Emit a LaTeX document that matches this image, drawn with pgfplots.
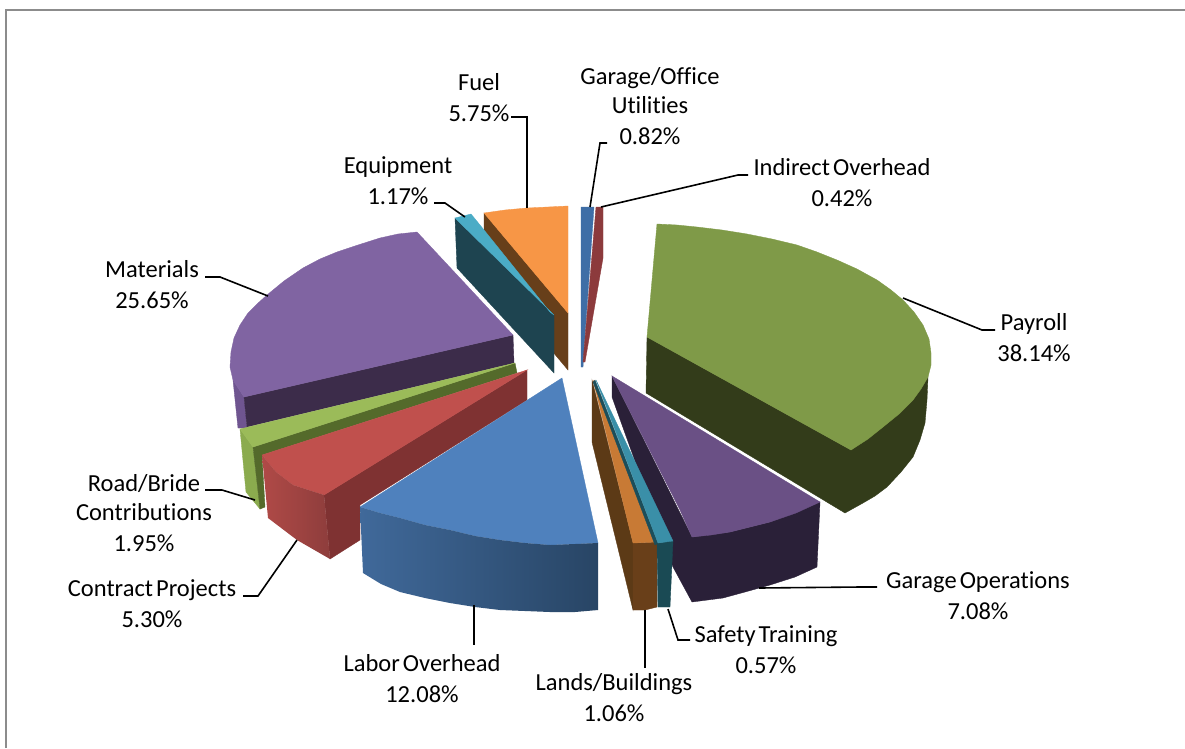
\documentclass[border=0pt]{standalone}
\usepackage{fontspec}
\setmainfont[WordSpace=0.55,Ligatures={NoCommon}]{Carlito}
\usepackage{pgfplots}
\pgfplotsset{compat=1.18}
\newcommand\poly[2]{\addplot[fill=#1,draw=#1,line width=0.35pt,forget plot] coordinates {#2} -- cycle;}
\newcommand\grad[3]{\addplot[draw=none,left color=#1,right color=#2,forget plot] coordinates {#3} -- cycle;}
\newcommand\lead[1]{\addplot[black,line width=1.6pt,forget plot] coordinates {#1};}
\newcommand\lab[3]{\node[align=center,inner sep=0pt,font=\fontsize{24.5}{29}\selectfont] at (axis cs:#1,#2) {#3};}
\definecolor{gTop}{HTML}{7F9A48}\definecolor{gDark}{HTML}{333C1A}
\definecolor{pTop}{HTML}{6A5085}\definecolor{pDark}{HTML}{2A2038}
\definecolor{mTop}{HTML}{8064A2}\definecolor{mDark}{HTML}{3C2C4A}\definecolor{mFront}{HTML}{6F5590}
\definecolor{oTop}{HTML}{F79646}\definecolor{oDark}{HTML}{673F1A}
\definecolor{lTop}{HTML}{C87A35}\definecolor{lDark}{HTML}{5C3A16}\definecolor{lFront}{HTML}{693F19}
\definecolor{tTop}{HTML}{3A8FA8}\definecolor{tFront}{HTML}{1A4A54}\definecolor{tMid}{HTML}{1C4E5A}
\definecolor{eTop}{HTML}{4BACC6}\definecolor{eDark}{HTML}{1E4450}
\definecolor{bTop}{HTML}{4F81BD}\definecolor{bL}{HTML}{40699A}\definecolor{bR}{HTML}{284565}
\definecolor{rTop}{HTML}{C0504D}\definecolor{rDark}{HTML}{7F3232}\definecolor{rF}{HTML}{B04A47}\definecolor{rG}{HTML}{8E3D3C}
\definecolor{vTop}{HTML}{9BBB59}\definecolor{vDark}{HTML}{546A2B}\definecolor{vFront}{HTML}{8BAB4E}
\definecolor{uBlue}{HTML}{3F6EA6}\definecolor{uRed}{HTML}{8C3A3C}
\definecolor{frameC}{HTML}{8C8C8C}
\begin{document}
\begin{tikzpicture}
\begin{axis}[scale only axis,width=1185pt,height=748pt,xmin=0,xmax=1185,ymin=0,ymax=748,y dir=reverse,axis lines=none,clip=true]
% page background, which also fixes the bounding box
\addplot[fill=white,draw=none,forget plot] coordinates {(0,0)(1185,0)(1185,748)(0,748)} -- cycle;
% frame
\addplot[frameC,line width=1.4pt,forget plot] coordinates {(6,748)(6,10)(1185,10)};
% fuel
\poly{oDark}{(484,213)(568,313)(568,370)(484,270)}
\poly{oTop}{(484,213)(505,210)(527,208)(548,207)(568,206)(568,313)}
% equipment
\poly{eDark}{(455,218)(554,315)(554,373)(457,268)}
\poly{eTop}{(455,218)(471,214)(480,225)(550,312)(554,315)}
% utilities
\poly{uBlue}{(581,207)(594,207)(585,335)(583,367)(581,367)}
\poly{uRed}{(596,207)(603,207)(603,258)(585,362)(583,362)}
% payroll
\poly{gDark}{(647,337)(851,450)(883,427)(913,400)(928,377)(927,400)(925,423)(920,440)(913,457)(901,472)(887,487)(875,496)(863,503)(845,513)(646,393)}
\poly{gTop}{(657,224)(677,225)(697,227)(722,230)(747,234)(772,239)(797,245)(817,252)(837,260)(857,269)(877,280)(891,290)(903,300)(914,312)(923,325)(929,339)(931,353)(931,365)(928,377)(921,389)(913,400)(899,414)(883,427)(868,439)(851,450)(647,337)}
% garage operations
\poly{pDark}{(612,376)(692,537)(730,532)(770,522)(820,502)(817,567)(795,577)(770,585)(745,592)(723,598)(692,602)(673,567)(612,397)}
\poly{pTop}{(612,376)(820,502)(796,513)(770,522)(750,527)(730,532)(711,535)(692,537)(680,510)}
% lands
\poly{lDark}{(592,380)(633,543)(633,610)(592,442)}
\poly{lFront}{(633,543)(657,542)(657,607)(645,610)(633,610)}
\poly{lTop}{(593,380)(657,542)(633,543)}
% safety
\poly{tMid}{(595,380)(658,543)(655,545)(593,382)}
\poly{tFront}{(657,543)(673,541)(670,607)(658,607)}
\poly{tTop}{(596,380)(673,541)(658,543)}
% materials
\poly{mFront}{(233,380)(244,397)(247,428)(238,428)}
\poly{mDark}{(244,397)(513,335)(514,363)(247,427)}
\poly{mTop}{(417,232)(513,335)(244,397)(233,380)(230,367)(231,352)(234,338)(240,325)(248,313)(257,304)(267,295)(284,281)(303,268)(320,259)(337,252)(358,245)(380,238)(398,234)}
% road/bride
\poly{vFront}{(240,429)(253,447)(260,509)(246,492)}
\poly{vDark}{(253,447)(515,363)(517,373)(262,455)(265,507)(260,509)}
\poly{vTop}{(240,429)(515,363)(253,447)}
% contract
\poly{rDark}{(324,495)(527,370)(527,400)(360,505)(360,540)(330,559)}
\poly{rTop}{(527,370)(262,455)(276,472)(293,485)(324,495)}
\grad{rF}{rG}{(262,455)(276,472)(293,485)(324,495)(330,559)(297,540)(268,518)}
% labor
\poly{bTop}{(562,378)(598,543)(575,544)(550,545)(525,543)(500,540)(475,536)(450,530)(425,525)(400,518)(380,513)(360,507)}
\grad{bL}{bR}{(360,507)(380,513)(400,518)(425,525)(450,530)(475,536)(500,540)(525,543)(550,545)(575,544)(598,543)(598,610)(575,612)(550,612)(525,611)(500,610)(475,607)(450,603)(425,598)(400,592)(381,584)(363,573)}
% leaders
\lead{(511,117)(527,117)(527,208)}
\lead{(607,143)(600,143)(590,207)}
\lead{(748,175)(738,175)(601,207)}
\lead{(434,203)(445,203)(465,217)}
\lead{(205,277)(220,277)(268,296)}
\lead{(903,298)(982,330)(995,330)}
\lead{(759,588)(860,587)(877,587)}
\lead{(668,609)(678,640)(690,640)}
\lead{(645,610)(645,668)}
\lead{(474,605)(474,645)}
\lead{(297,540)(258,596)(243,596)}
\lead{(255,500)(222,490)(205,490)}
% labels
\lab{479}{98}{Fuel\\[2pt]5.75\%}
\lab{650}{106}{Garage/Office\\Utilities\\[2pt]0.82\%}
\lab{842}{183}{Indirect Overhead\\[2pt]0.42\%}
\lab{398}{181}{Equipment\\[2pt]1.17\%}
\lab{152}{285}{Materials\\[2pt]25.65\%}
\lab{1034}{338}{Payroll\\[2pt]38.14\%}
\lab{978}{596}{Garage Operations\\[2pt]7.08\%}
\lab{766}{650}{Safety Training\\[2pt]0.57\%}
\lab{614}{698}{Lands/Buildings\\[2pt]1.06\%}
\lab{422}{679}{Labor Overhead\\[2pt]12.08\%}
\lab{152}{604}{Contract Projects\\[2pt]5.30\%}
\lab{144}{513}{Road/Bride\\Contributions\\[2pt]1.95\%}
\end{axis}
\end{tikzpicture}
\end{document}
